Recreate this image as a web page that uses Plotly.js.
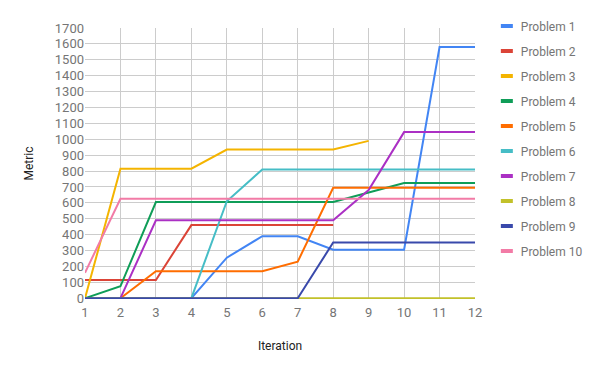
<!DOCTYPE html>
<html>
<head>
<meta charset="utf-8">
<script src="https://cdn.plot.ly/plotly-3.0.1.min.js"></script>
<style>html,body{margin:0;padding:0;background:#fff;}#chart{width:600px;height:371px;}</style>
</head>
<body>
<div id="chart"></div>
<script>
const iterations = [1,2,3,4,5,6,7,8,9,10,11,12];
const seriesNames = ["Problem 1","Problem 2","Problem 3","Problem 4","Problem 5","Problem 6","Problem 7","Problem 8","Problem 9","Problem 10"];
const problem1 = [0,0,0,0,255,390,390,305,305,305,1580,1580];
const problem2 = [115,115,115,460,460,460,460,460,null,null,null,null];
const problem3 = [0,815,815,815,935,935,935,935,990,null,null,null];
const problem4 = [0,75,605,605,605,605,605,605,665,725,725,725];
const problem5 = [null,0,170,170,170,170,230,695,695,695,695,695];
const problem6 = [null,null,null,0,610,810,810,810,810,810,810,810];
const problem7 = [null,0,490,490,490,490,490,490,680,1045,1045,1045];
const problem8 = [0,0,0,0,0,0,0,0,0,0,0,0];
const problem9 = [0,0,0,0,0,0,0,350,350,350,350,350];
const problem10 = [160,625,625,625,625,625,625,625,625,625,625,625];
const seriesValues = [problem1,problem2,problem3,problem4,problem5,problem6,problem7,problem8,problem9,problem10];
const colors = ["#4285F4","#DB4437","#F4B400","#0F9D58","#FF6D00","#46BDC6","#AB30C4","#C2C12A","#3949AB","#F27BA6"];

const traces = seriesNames.map((name, i) => ({
  x: iterations,
  y: seriesValues[i],
  name: name,
  legendgroup: "g" + i,
  type: "scatter",
  mode: "lines",
  line: {color: colors[i], width: 2},
  connectgaps: false
}));

const layout = {
  width: 600, height: 371,
  margin: {l: 85.3, r: 123.3, t: 26.5, b: 72.2, pad: 0},
  paper_bgcolor: "#fff", plot_bgcolor: "#fff",
  font: {family: "Roboto, sans-serif", size: 12, color: "#757575"},
  showlegend: true,
  legend: {
    x: 1.015, xanchor: "left", y: 1.061, yanchor: "top",
    font: {family: "Roboto, sans-serif", size: 12, color: "#757575"},
    tracegroupgap: 6, itemwidth: 30, bgcolor: "rgba(0,0,0,0)",
    maxheight: 360
  },
  xaxis: {
    range: [1, 12], tickmode: "linear", tick0: 1, dtick: 1,
    showgrid: true, gridcolor: "#CCCCCC", gridwidth: 1,
    zeroline: false, showline: false, ticks: "",
    ticklabelstandoff: 4,
    tickfont: {size: 13, color: "#757575"},
    title: {text: "Iteration", font: {size: 12, color: "#222"}, standoff: 22}
  },
  yaxis: {
    range: [-5, 1700], tickmode: "linear", tick0: 0, dtick: 100,
    showgrid: true, gridcolor: "#CCCCCC", gridwidth: 1,
    zeroline: false, showline: false, ticks: "",
    tickfont: {size: 13, color: "#757575"},
    title: {text: "Metric", font: {size: 12, color: "#222"}, standoff: 18}
  }
};

Plotly.newPlot("chart", traces, layout, {staticPlot: true, displayModeBar: false}).then(function () {
  // shorter, thicker legend swatches like the original chart
  document.querySelectorAll("#chart .legendlines path").forEach(function (p) {
    p.setAttribute("d", "M20,0h12");
    p.style.strokeWidth = "4px";
  });
});
</script>
</body>
</html>
